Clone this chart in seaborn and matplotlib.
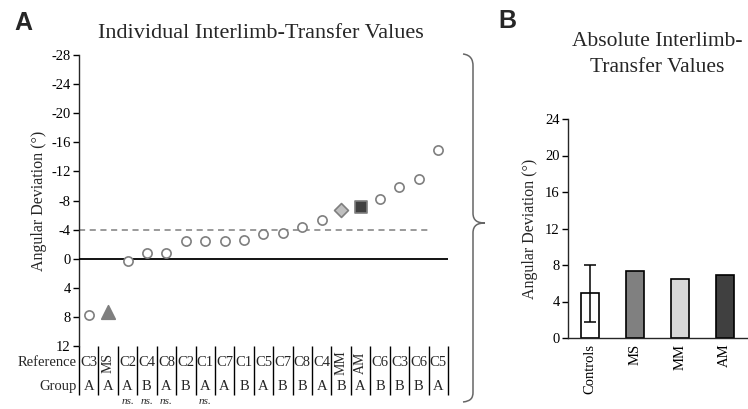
import matplotlib
matplotlib.use("Agg")
import matplotlib.pyplot as plt
import matplotlib.transforms as mtransforms
from matplotlib.path import Path
from matplotlib.patches import PathPatch
import seaborn as sns
import pandas as pd
import numpy as np

# ---------------- data ----------------
references = ["C3", "MS", "C2", "C4", "C8", "C2", "C1", "C7", "C1", "C5",
              "C7", "C8", "C4", "MM", "AM", "C6", "C3", "C6", "C5"]
groups = ["A", "A", "A", "B", "A", "B", "A", "A", "B", "A",
          "B", "B", "A", "B", "A", "B", "B", "B", "A"]
transfer_values = [7.7, 7.3, 0.25, -0.75, -0.85, -2.4, -2.4, -2.5, -2.6, -3.35,
                   -3.55, -4.4, -5.35, -6.75, -7.1, -8.2, -9.8, -10.9, -15.0]
ns_flags = [False, False, True, True, True, False, True, False, False, False,
            False, False, False, False, False, False, False, False, False]
threshold = -4.0
yticks_a = [-28, -24, -20, -16, -12, -8, -4, 0, 4, 8, 12]

bar_categories = ["Controls", "MS", "MM", "AM"]
bar_means = [4.9, 7.35, 6.5, 6.9]
bar_sd = [3.1, 0.0, 0.0, 0.0]
yticks_b = [0, 4, 8, 12, 16, 20, 24]

# ---------------- style ----------------
sns.set_theme(style="ticks")
plt.rcParams["font.family"] = ["Liberation Serif", "DejaVu Serif"]
plt.rcParams["axes.linewidth"] = 1.0
plt.rcParams["xtick.color"] = "black"
plt.rcParams["ytick.color"] = "black"

W, H = 748, 409
fig = plt.figure(figsize=(W / 100, H / 100), dpi=100)


def axrect(x0, y0, x1, y1):
    return [x0 / W, 1 - y1 / H, (x1 - x0) / W, (y1 - y0) / H]


# ---------------- panel A ----------------
axA = fig.add_axes(axrect(79, 55, 448, 346))
df = pd.DataFrame({"idx": np.arange(len(references)), "ref": references,
                   "grp": groups, "val": transfer_values})

kind = []
for r in references:
    kind.append(r if r in ("MS", "MM", "AM") else "C")
df["kind"] = kind

style_map = {
    "C": dict(marker="o", s=44, color="white"),
    "MS": dict(marker="^", s=95, color="#7f7f7f"),
    "MM": dict(marker="D", s=50, color="#bfbfbf"),
    "AM": dict(marker="s", s=82, color="#404040"),
}
for k, st in style_map.items():
    sub = df[df["kind"] == k]
    sns.scatterplot(data=sub, x="idx", y="val", marker=st["marker"], s=st["s"],
                    color=st["color"], edgecolor="#7f7f7f", linewidth=1.2,
                    ax=axA, zorder=5, legend=False)

axA.axhline(0, color="black", lw=1.3, zorder=3)
axA.axhline(threshold, xmax=(17.55 + 0.5) / 19, color="#7f7f7f", lw=1.1,
            ls=(0, (4, 3)), zorder=2)

axA.set_xlim(-0.5, len(references) - 0.5)
axA.set_ylim(12, -28)
axA.set_yticks(yticks_a)
axA.set_yticklabels([str(t) for t in yticks_a])
axA.tick_params(axis="y", labelsize=10.5, length=4, width=1, direction="out", pad=2)
axA.set_xticks([])
axA.set_xlabel("")
axA.set_ylabel("Angular Deviation (°)", fontsize=11.5, labelpad=3)
for s in ("top", "right", "bottom"):
    axA.spines[s].set_visible(False)

trans = mtransforms.blended_transform_factory(axA.transData, axA.transAxes)
# table lines
axA.vlines(np.arange(len(references) + 1) - 0.5, -0.17, 0, transform=trans,
           color="black", lw=1.0, clip_on=False)
for i, (r, g) in enumerate(zip(references, groups)):
    if r in ("MS", "MM", "AM"):
        axA.text(i, -0.058, r, transform=trans, ha="center", va="center",
                 fontsize=10, rotation=90, clip_on=False)
    else:
        axA.text(i, -0.058, r, transform=trans, ha="center", va="center",
                 fontsize=10.5, clip_on=False)
    axA.text(i, -0.14, g, transform=trans, ha="center", va="center",
             fontsize=10.5, clip_on=False)
    if ns_flags[i]:
        axA.text(i, -0.176, "ns.", transform=trans, ha="center", va="top",
                 fontsize=8, style="italic", clip_on=False)
axA.text(-0.6, -0.058, "Reference", transform=trans, ha="right", va="center",
         fontsize=10.5, clip_on=False)
axA.text(-0.6, -0.14, "Group", transform=trans, ha="right", va="center",
         fontsize=10.5, clip_on=False)

fig.text(261 / W, 1 - 33 / H, "Individual Interlimb-Transfer Values",
         ha="center", va="center", fontsize=16)
fig.text(23 / W, 1 - 23 / H, "A", ha="center", va="center", fontsize=18,
         fontweight="bold", family=["Liberation Sans", "DejaVu Sans"])

# brace
pts = [(463, 54), (471, 55), (473, 60), (473, 66),
       (473, 213),
       (473, 221), (478, 223), (485, 223),
       (478, 223), (473, 225), (473, 233),
       (473, 392),
       (473, 398), (471, 401), (463, 402)]
codes = [Path.MOVETO, Path.CURVE4, Path.CURVE4, Path.CURVE4,
         Path.LINETO,
         Path.CURVE4, Path.CURVE4, Path.CURVE4,
         Path.CURVE4, Path.CURVE4, Path.CURVE4,
         Path.LINETO,
         Path.CURVE4, Path.CURVE4, Path.CURVE4]
verts = [(x / W, 1 - y / H) for x, y in pts]
fig.patches.append(PathPatch(Path(verts, codes), transform=fig.transFigure,
                             fill=False, edgecolor="#666666", lw=1.1))

# ---------------- panel B ----------------
axB = fig.add_axes(axrect(568, 119, 747, 338))
dfb = pd.DataFrame({"cat": bar_categories, "mean": bar_means})
bar_colors = ["white", "#808080", "#d9d9d9", "#404040"]
sns.barplot(data=dfb, x="cat", y="mean", hue="cat", palette=bar_colors,
            edgecolor="black", linewidth=1.2, width=0.4, ax=axB, legend=False,
            errorbar=None)
axB.errorbar([0], [bar_means[0]], yerr=[bar_sd[0]], fmt="none", ecolor="black",
             elinewidth=1.1, capsize=4, capthick=1.1, zorder=6)
axB.set_xlim(-0.5, 3.5)
axB.set_ylim(0, 24)
axB.set_yticks(yticks_b)
axB.tick_params(axis="y", labelsize=10.5, length=4, width=1, pad=2)
axB.tick_params(axis="x", labelsize=10.5, length=0, pad=4)
axB.set_xticks(range(len(bar_categories)))
axB.set_xticklabels(bar_categories, rotation=90)
axB.set_xlabel("")
axB.set_ylabel("Angular Deviation (°)", fontsize=11.5, labelpad=5)
for s in ("top", "right"):
    axB.spines[s].set_visible(False)

fig.text(657 / W, 1 - 42 / H, "Absolute Interlimb-", ha="center", va="center",
         fontsize=15.5)
fig.text(657 / W, 1 - 68 / H, "Transfer Values", ha="center", va="center",
         fontsize=15.5)
fig.text(507 / W, 1 - 21 / H, "B", ha="center", va="center", fontsize=18,
         fontweight="bold", family=["Liberation Sans", "DejaVu Sans"])

fig.savefig("out.png", dpi=100)
